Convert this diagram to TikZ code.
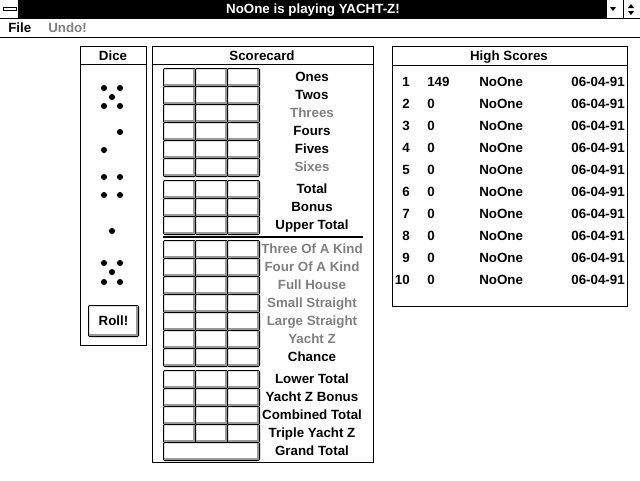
\documentclass[tikz,border=0pt]{standalone}
\usepackage{fontspec}
\setmainfont{Liberation Sans}
\usepackage{tikz}
\usetikzlibrary{positioning}
\usetikzlibrary{calc}

\begin{document}
\begin{tikzpicture}[x=0.75pt, y=-0.75pt,
  font=\bfseries\fontsize{10}{12}\selectfont,
  every node/.style={inner sep=0pt, text height=7.2pt, text depth=0pt},
  on/.style={},
  off/.style={text=black!50},
  pip/.style={circle, fill, minimum size=4.6pt, text height=0pt},
  btnshadow/.style={fill=black!40},
  cell/.style={draw, fill=white, line width=0.75pt, anchor=north west,
    minimum width=24pt, minimum height=13.5pt, rounded corners=0.75pt}]
  %\draw [help lines, dotted] (0,0) grid[step=20] (640,480);
  \useasboundingbox (0,0) rectangle (640,480);

  % title bar and menu
  \fill (18,0) rectangle (607,18);
  \draw[line width=0.75pt] (0,18) -- (640,18);
  \fill[black!40] (4,8) rectangle (17,11);
  \draw[line width=0.75pt, fill=white] (3,7) rectangle (16,10);
  \node[text=white] (Title) at (313,9) {NoOne is playing YACHT-Z!};
  \draw[line width=0.75pt] (623,0) -- (623,18);
  \fill (610,7) -- (616,7) -- (613,11) -- cycle;
  \fill (628,8) -- (634,8) -- (631,4) -- cycle;
  \fill (628,11) -- (634,11) -- (631,15) -- cycle;
  \node[anchor=west] (File) at (8,28) {File};
  \node[anchor=west, off] (Undo) at (48,28) {Undo!};
  \draw[line width=0.75pt] (0,37) -- (640,37);

  % dice
  \draw[line width=0.75pt] (80,46) rectangle (146,345);
  \draw[line width=0.75pt] (80,64) -- (146,64);
  \node(Dice) at (113,56) {Dice};
  \foreach \x/\y [count=\i] in {104/88,120/88,112/97,104/106,120/106,
                                120/132,104/150,
                                104/177,120/177,104/195,120/195,
                                112/231,
                                104/263,120/263,112/272,104/282,120/282}
    \node[pip] (pip-\i) at (\x,\y) {};
  \node[cell, minimum width=37.5pt, minimum height=23.25pt] (RollBtn) at (88,305) {};
  \fill[btnshadow] ($(RollBtn.south west)+(1,-1)$) rectangle ($(RollBtn.south east)+(-1,-3)$);
  \fill[btnshadow] ($(RollBtn.north east)+(-3,1)$) rectangle ($(RollBtn.south east)+(-1,-1)$);
  \node(Roll) at (RollBtn.center) {Roll!};

  % scorecard
  \draw[line width=0.75pt] (152,46) rectangle (373,462);
  \draw[line width=0.75pt] (152,64) -- (373,64);
  \node(Scorecard) at (262,56) {Scorecard};
  \foreach \y/\txt/\st in {68/Ones/on, 86/Twos/on, 104/Threes/off, 122/Fours/on,
                           140/Fives/on, 158/Sixes/off, 180/Total/on, 198/Bonus/on,
                           216/Upper Total/on,
                           240/Three Of A Kind/off, 258/Four Of A Kind/off,
                           276/Full House/off, 294/Small Straight/off,
                           312/Large Straight/off, 330/Yacht Z/off, 348/Chance/on,
                           370/Lower Total/on, 388/Yacht Z Bonus/on,
                           406/Combined Total/on, 424/Triple Yacht Z/on} {
    \foreach \c in {0,1,2} {
      \node[cell] (cell-\y-\c) at (163+32*\c,\y) {};
      \fill[btnshadow] ($(cell-\y-\c.south west)+(1,-1)$) rectangle ($(cell-\y-\c.south east)+(-1,-3)$);
      \fill[btnshadow] ($(cell-\y-\c.north east)+(-3,1)$) rectangle ($(cell-\y-\c.south east)+(-1,-1)$);
    }
    \node[\st] (lab-\y) at (312,\y+9) {\txt};
  }
  \node[cell, minimum width=72pt] (cell-442) at (163,442) {};
  \fill[btnshadow] ($(cell-442.south west)+(1,-1)$) rectangle ($(cell-442.south east)+(-1,-3)$);
  \fill[btnshadow] ($(cell-442.north east)+(-3,1)$) rectangle ($(cell-442.south east)+(-1,-1)$);
  \node(lab-442) at (312,451) {Grand Total};
  \draw[line width=1.5pt] (163,237) -- (363,237);

  % high scores
  \draw[line width=0.75pt] (392,46) rectangle (627,306);
  \draw[line width=0.75pt] (392,65) -- (627,65);
  \node(HighScores) at (509,56) {High Scores};
  \foreach \i/\s in {1/149,2/0,3/0,4/0,5/0,6/0,7/0,8/0,9/0,10/0} {
    \node[anchor=east] (rank-\i)  at (410,60+22*\i) {\i};
    \node[anchor=west] (score-\i) at (427,60+22*\i) {\s};
    \node[anchor=west] (name-\i)  at (479,60+22*\i) {NoOne};
    \node[anchor=east] (date-\i)  at (625,60+22*\i) {06-04-91};
  }
\end{tikzpicture}
\end{document}
